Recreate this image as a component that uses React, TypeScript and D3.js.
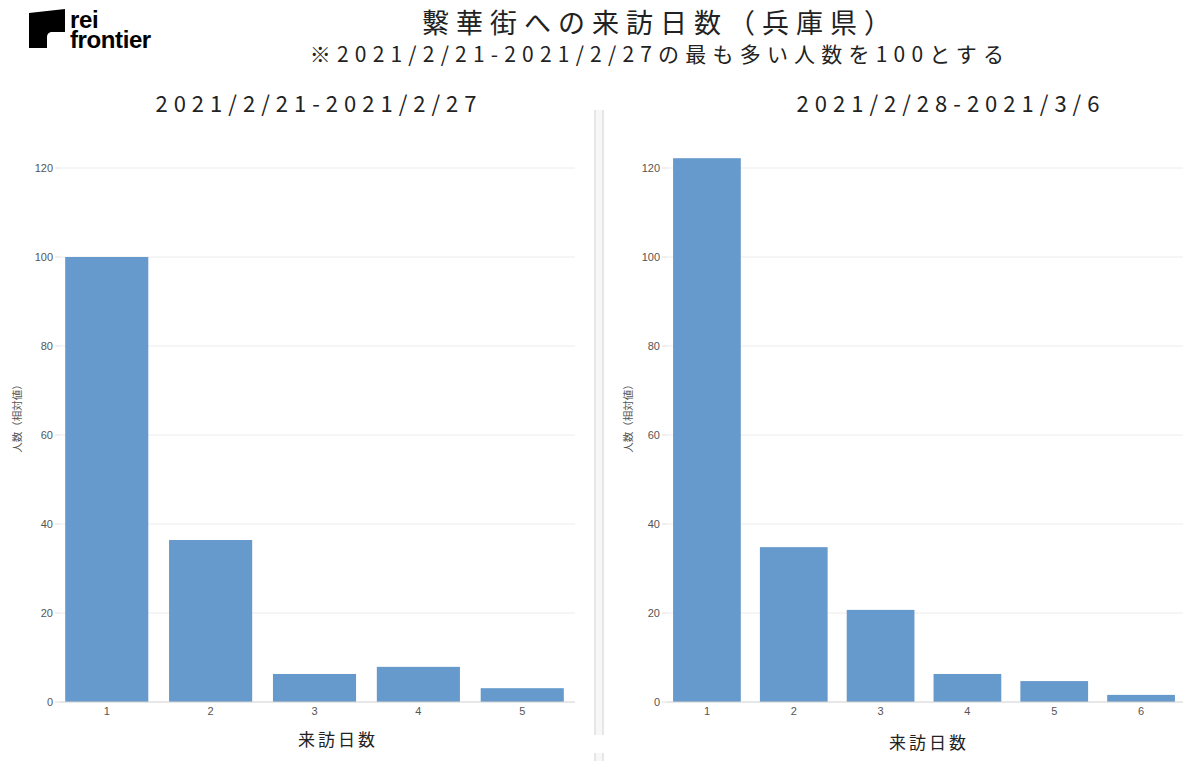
import React from 'react';
import * as d3 from 'd3';

// 来訪日数ごとの人数（相対値）
const daysWeek1 = ['1', '2', '3', '4', '5'];
const valuesWeek1 = [100, 36.4, 6.3, 7.9, 3.1];
const daysWeek2 = ['1', '2', '3', '4', '5', '6'];
const valuesWeek2 = [122.2, 34.8, 20.7, 6.3, 4.7, 1.6];
const yTicks = [0, 20, 40, 60, 80, 100, 120];

const mainTitle = '繫華街への来訪日数（兵庫県）';
const subTitle = '※2021/2/21-2021/2/27の最も多い人数を100とする';
const panelTitles = ['2021/2/21-2021/2/27', '2021/2/28-2021/3/6'];

const JP = '"Noto Sans CJK JP", "Noto Sans", sans-serif';
const SANS = '"Liberation Sans", Arial, sans-serif';
const BAR = '#6699cc';

type PanelProps = {
  days: string[];
  values: number[];
  title: string;
  x0: number;
  x1: number;
  gridEnd: number;
  padInner: number;
  padOuter: number;
  titleX: number;
  yTitleX: number;
  xTitleX: number;
  xTitleY: number;
};

const Panel = ({ days, values, title, x0, x1, gridEnd, padInner, padOuter, titleX, yTitleX, xTitleX, xTitleY }: PanelProps) => {
  const x = d3.scaleBand().domain(days).range([x0, x1]).paddingInner(padInner).paddingOuter(padOuter);
  const y = d3.scaleLinear().domain([0, 120]).range([702, 168]);

  return (
    <g>
      <text x={titleX} y={112} textAnchor="middle" fontFamily={JP} fontSize={22} letterSpacing={6} fill="#222">{title}</text>
      {yTicks.map(t => (
        <g key={t}>
          {t > 0 && <line x1={x0} x2={gridEnd} y1={y(t)} y2={y(t)} stroke="#ececec" strokeWidth={1} />}
          <line x1={x0 - 5} x2={x0} y1={y(t)} y2={y(t)} stroke="#e0e0e0" strokeWidth={1} />
          <text x={x0 - 7} y={y(t)} dy="0.35em" textAnchor="end" fontFamily={SANS} fontSize={11} fill="#555">{t}</text>
        </g>
      ))}
      {days.map((d, i) => (
        <rect key={d} x={x(d)!} y={y(values[i])} width={x.bandwidth()} height={y(0) - y(values[i])} fill={BAR} />
      ))}
      <line x1={x0} x2={gridEnd} y1={y(0)} y2={y(0)} stroke="#d0d0d0" strokeWidth={1} />
      {days.map(d => (
        <text key={d} x={x(d)! + x.bandwidth() / 2} y={715} textAnchor="middle" fontFamily={SANS} fontSize={11} fill="#555">{d}</text>
      ))}
      <text x={xTitleX} y={xTitleY} textAnchor="middle" fontFamily={JP} fontSize={17} letterSpacing={3} fill="#222">来訪日数</text>
      <text transform={`translate(${yTitleX},416) rotate(-90)`} textAnchor="middle" fontFamily={JP} fontSize={10.5} fill="#555">人数（相対値）</text>
    </g>
  );
};

const App = () => {
  return (
    <div style={{ position: 'fixed', left: 0, top: 0, width: 1200, height: 761, background: '#fff' }}>
      <svg width={1200} height={761} viewBox="0 0 1200 761">
        <rect width={1200} height={761} fill="#fff" />
        {/* logo */}
        <path d="M29,13 L65,9 L65,32 L51,32 Q47,33 47,37 L47,48 L29,48 Z" fill="#000" />
        <text x={70} y={28} fontFamily={SANS} fontWeight="bold" fontSize={24} letterSpacing={-0.4} fill="#000">rei</text>
        <text x={70} y={48} fontFamily={SANS} fontWeight="bold" fontSize={24} letterSpacing={-0.4} fill="#000">frontier</text>

        <text x={660} y={33} textAnchor="middle" fontFamily={JP} fontSize={27} letterSpacing={7} fill="#222">{mainTitle}</text>
        <text x={660} y={62} textAnchor="middle" fontFamily={JP} fontSize={21} letterSpacing={6.2} fill="#222">{subTitle}</text>

        {/* divider */}
        <rect x={594} y={110} width={10} height={625} fill="#f7f7f7" />
        <rect x={594} y={110} width={2} height={625} fill="#e6e6e6" />
        <rect x={602} y={110} width={2} height={625} fill="#e6e6e6" />
        <rect x={594} y={753} width={10} height={8} fill="#f7f7f7" />
        <rect x={594} y={753} width={2} height={8} fill="#e6e6e6" />
        <rect x={602} y={753} width={2} height={8} fill="#e6e6e6" />

        <Panel days={daysWeek1} values={valuesWeek1} title={panelTitles[0]} x0={60} x1={569} gridEnd={575}
          padInner={0.2} padOuter={0.05} titleX={319} yTitleX={21} xTitleX={338} xTitleY={746} />
        <Panel days={daysWeek2} values={valuesWeek2} title={panelTitles[1]} x0={667} x1={1181} gridEnd={1183}
          padInner={0.22} padOuter={0.07} titleX={951} yTitleX={632} xTitleX={929} xTitleY={749} />
      </svg>
    </div>
  );
};

export default App;
